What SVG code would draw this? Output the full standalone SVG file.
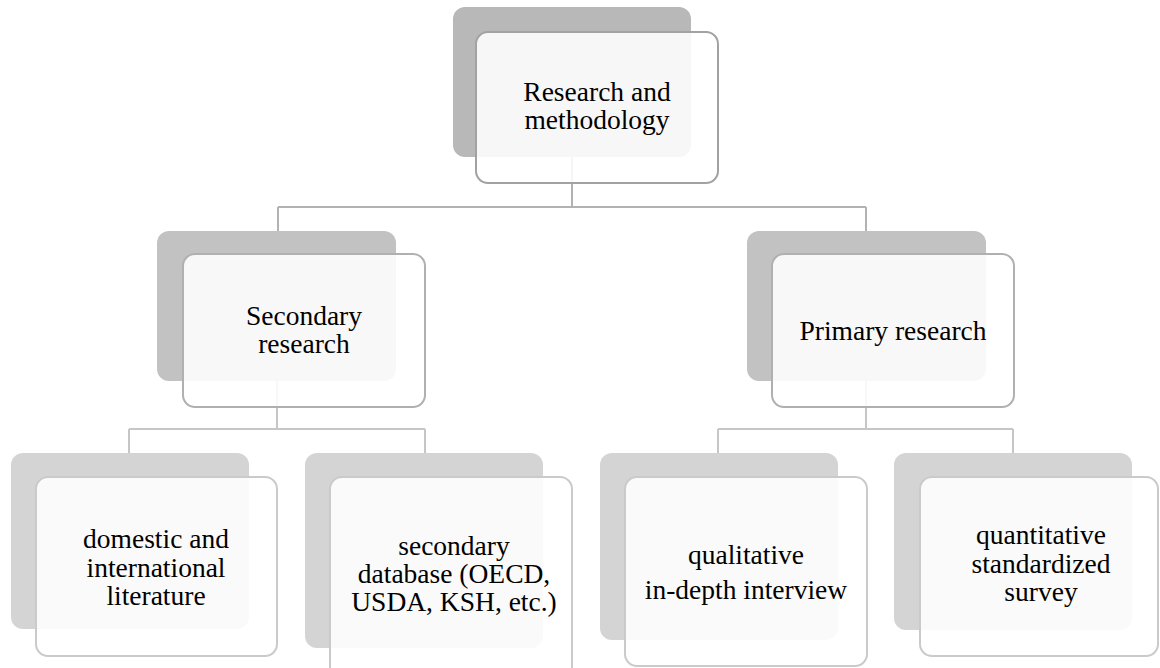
<svg xmlns="http://www.w3.org/2000/svg" width="1160" height="668" viewBox="0 0 1160 668">
  <style>
    .bg { fill: #ffffff; }
    .wire1 { fill: none; stroke: #b2b2b2; stroke-width: 2; }
    .wire2 { fill: none; stroke: #c6c6c6; stroke-width: 2; }
    .back1 { fill: #b8b8b8; }
    .back2 { fill: #c2c2c2; }
    .back3 { fill: #d4d4d4; }
    .front { fill: #ffffff; fill-opacity: 0.88; stroke-width: 2; }
    .f1 { stroke: #a2a2a2; }
    .f2 { stroke: #b0b0b0; }
    .f3 { stroke: #cacaca; }
    .label { font-family: "Liberation Serif", "Times New Roman", serif; font-size: 27.5px; fill: #000000; text-anchor: middle; }
  </style>
  <rect class="bg" x="0" y="0" width="1160" height="668"/>

  <!-- connectors (drawn beneath the nodes) -->
  <g id="connectors">
    <path class="wire1" d="M572 157 V207 M278 207 H866 M278 207 V231 M866 207 V231"/>
    <path class="wire2" d="M277 381 V429 M129 429 H425 M129 429 V453 M425 429 V453"/>
    <path class="wire2" d="M866 381 V429 M718 429 H1013 M718 429 V453 M1013 429 V453"/>
  </g>

  <g id="node-root">
    <rect class="back1" x="453" y="7" width="238" height="150" rx="12"/>
    <rect class="front f1" x="476" y="32" width="242" height="151" rx="12"/>
    <text class="label" x="597" y="101">Research and</text>
    <text class="label" x="597" y="129">methodology</text>
  </g>

  <g id="node-secondary">
    <rect class="back2" x="157" y="231" width="239" height="150" rx="12"/>
    <rect class="front f2" x="183" y="254" width="242" height="153" rx="12"/>
    <text class="label" x="304" y="325">Secondary</text>
    <text class="label" x="304" y="353">research</text>
  </g>

  <g id="node-primary">
    <rect class="back2" x="747" y="231" width="239" height="150" rx="12"/>
    <rect class="front f2" x="772" y="254" width="242" height="153" rx="12"/>
    <text class="label" x="893" y="340">Primary research</text>
  </g>

  <g id="node-literature">
    <rect class="back3" x="11" y="453" width="238" height="176" rx="12"/>
    <rect class="front f3" x="36" y="477" width="241" height="179" rx="12"/>
    <text class="label" x="156" y="548">domestic and</text>
    <text class="label" x="156" y="577">international</text>
    <text class="label" x="156" y="605">literature</text>
  </g>

  <g id="node-database">
    <rect class="back3" x="305" y="453" width="238" height="195" rx="12"/>
    <rect class="front f3" x="330" y="477" width="242" height="215" rx="12"/>
    <text class="label" x="454" y="555">secondary</text>
    <text class="label" x="454" y="583">database (OECD,</text>
    <text class="label" x="454" y="611">USDA, KSH, etc.)</text>
  </g>

  <g id="node-qualitative">
    <rect class="back3" x="600" y="453" width="238" height="187" rx="12"/>
    <rect class="front f3" x="625" y="477" width="242" height="189" rx="12"/>
    <text class="label" x="746" y="564">qualitative</text>
    <text class="label" x="746" y="599">in-depth interview</text>
  </g>

  <g id="node-quantitative">
    <rect class="back3" x="894" y="453" width="238" height="177" rx="12"/>
    <rect class="front f3" x="920" y="477" width="238" height="179" rx="12"/>
    <text class="label" x="1041" y="544">quantitative</text>
    <text class="label" x="1041" y="573">standardized</text>
    <text class="label" x="1041" y="601">survey</text>
  </g>
</svg>
